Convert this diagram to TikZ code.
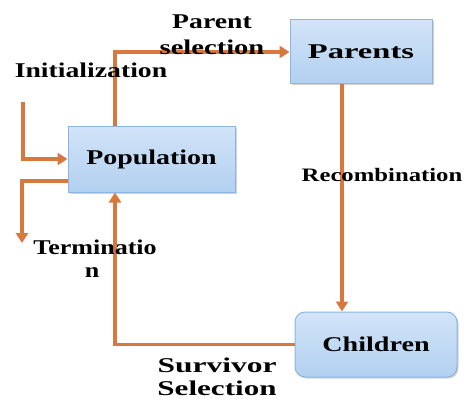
\documentclass[tikz,border=0pt]{standalone}
\usepackage{fontspec}
\setmainfont{Liberation Serif}
\usetikzlibrary{arrows.meta,shadows}
\definecolor{arrc}{RGB}{216,120,62}
\definecolor{boxtop}{RGB}{210,228,248}
\definecolor{boxbot}{RGB}{178,208,240}
\definecolor{boxline}{RGB}{140,182,224}
\newcommand{\sx}[2]{\scalebox{#1}[1]{#2}}
\tikzset{
  box/.style={draw=boxline, line width=1pt, top color=boxtop, bottom color=boxbot,
    drop shadow={opacity=0.35, shadow xshift=1.5pt, shadow yshift=-1.5pt},
    font=\bfseries\fontsize{21}{24}\selectfont, inner sep=0pt},
  arr/.style={draw=arrc, line width=3.4pt, -{Triangle[length=10pt,width=12pt]}},
  lab/.style={font=\bfseries\fontsize{21}{24}\selectfont, inner sep=0pt, text=black},
  slab/.style={font=\bfseries\fontsize{19}{22}\selectfont, inner sep=0pt, text=black}
}
\begin{document}
\begin{tikzpicture}[x=1pt,y=-1pt]
\useasboundingbox (0,0) rectangle (465,401);
% boxes
\node[box, minimum width=167pt, minimum height=66pt] (pop) at (151.5,159) {\sx{1.33}{Population}};
\node[box, minimum width=142pt, minimum height=64pt] (par) at (361,52) {\sx{1.55}{Parents}};
\node[box, rounded corners=10pt, minimum width=162pt, minimum height=65pt] (chi) at (376,344.5) {\sx{1.34}{Children}};
% connectors
\coordinate (istart) at (23,102);
\coordinate (tend) at (22,243);
\draw[arr] ([xshift=-36.5pt]pop.north) |- (par.west);
\draw[arr] (istart) |- (pop.west);
\draw[arr] ([yshift=-22pt]pop.west) -| (tend);
\draw[arr] ([xshift=-19pt]par.south) -- ([xshift=-19pt]par.south |- chi.north);
\draw[arr] (chi.west) -| ([xshift=-36.5pt]pop.south);
% labels
\node[lab] (linit) at (91,70) {\sx{1.32}{Initialization}};
\node[lab] (lpar1) at (212,22) {\sx{1.32}{Parent}};
\node[lab] (lpar2) at (212,47) {\sx{1.36}{selection}};
\node[slab] (lrec) at (382,175) {\sx{1.3}{Recombination}};
\node[lab] (lter1) at (95,247) {\sx{1.24}{Terminatio}};
\node[lab] (lter2) at (92,273) {\sx{1.24}{n}};
\node[lab] (lsur1) at (217,365) {\sx{1.5}{Survivor}};
\node[lab] (lsur2) at (217,388) {\sx{1.48}{Selection}};
\end{tikzpicture}
\end{document}
